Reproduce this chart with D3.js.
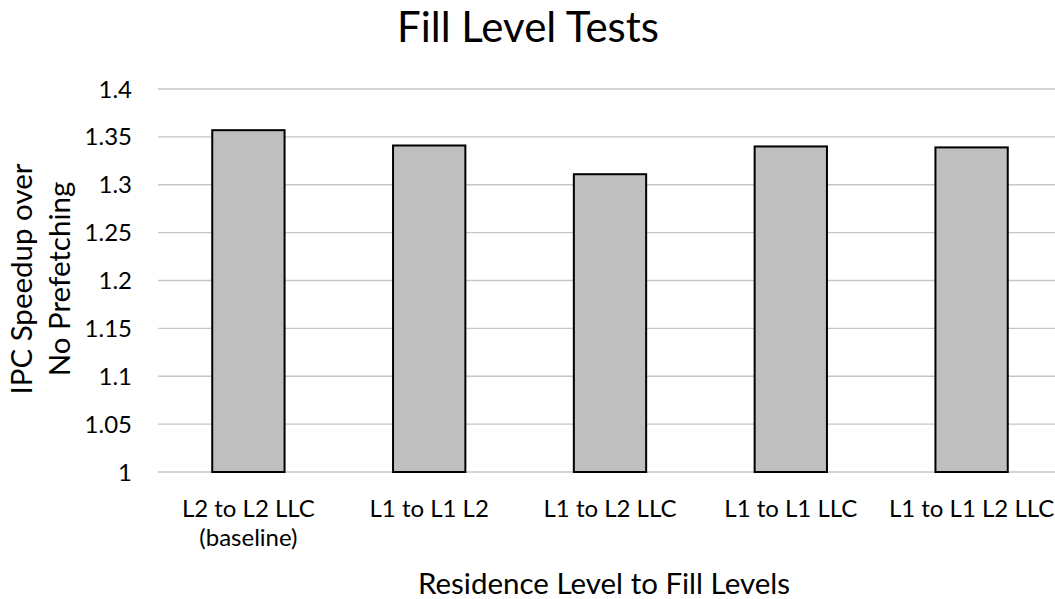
<!DOCTYPE html>
<html lang="en">
<head>
    <meta charset="UTF-8">
    <title>Fill Level Tests</title>
    <style>
        body { margin: 0; background: #fff; }
        text { font-family: Lato, "Open Sans", sans-serif; fill: #000; }
    </style>
</head>
<body>
    <div id="content"></div>

    <script src="https://cdn.jsdelivr.net/npm/d3@7/dist/d3.min.js"></script>
    <script>
        const categories = [
            ["L2 to L2 LLC", "(baseline)"],
            ["L1 to L1 L2"],
            ["L1 to L2 LLC"],
            ["L1 to L1 LLC"],
            ["L1 to L1 L2 LLC"]
        ];
        const speedup = [1.357, 1.341, 1.311, 1.340, 1.339];
        const yTicks = [1, 1.05, 1.1, 1.15, 1.2, 1.25, 1.3, 1.35, 1.4];

        const width = 1055, height = 599;
        const plot = {left: 158, right: 1062, top: 89, bottom: 472};

        const svg = d3.select("#content")
            .append("svg")
            .attr("width", width)
            .attr("height", height);

        const keys = categories.map((c) => c.join(" "));

        const x = d3.scaleBand()
            .domain(keys)
            .range([plot.left, plot.right])
            .paddingInner(0.6)
            .paddingOuter(0.3);

        const y = d3.scaleLinear()
            .domain([1, 1.4])
            .range([plot.bottom, plot.top]);

        // gridlines
        svg.append("g")
            .selectAll("line")
            .data(yTicks)
            .join("line")
            .attr("x1", plot.left)
            .attr("x2", plot.right)
            .attr("y1", (d) => y(d))
            .attr("y2", (d) => y(d))
            .attr("stroke", "#c6c6c6")
            .attr("stroke-width", 1.4);

        // y tick labels
        svg.append("g")
            .selectAll("text")
            .data(yTicks)
            .join("text")
            .attr("x", 132)
            .attr("y", (d) => y(d) + 8.5)
            .attr("text-anchor", "end")
            .attr("font-size", 24)
            .text((d) => d3.format("~g")(d));

        // bars
        svg.append("g")
            .selectAll("rect")
            .data(speedup)
            .join("rect")
            .attr("x", (d, i) => x(keys[i]))
            .attr("y", (d) => y(d))
            .attr("width", x.bandwidth())
            .attr("height", (d) => y(1) - y(d))
            .attr("fill", "#bfbfbf")
            .attr("stroke", "#000")
            .attr("stroke-width", 2);

        // x tick labels
        const xLabels = svg.append("g")
            .selectAll("text")
            .data(categories)
            .join("text")
            .attr("text-anchor", "middle")
            .attr("font-size", 24)
            .attr("y", 517);

        xLabels.selectAll("tspan")
            .data((d, i) => d.map((line) => ({line, cx: x(keys[i]) + x.bandwidth() / 2})))
            .join("tspan")
            .attr("x", (d) => d.cx)
            .attr("dy", (d, j) => j === 0 ? 0 : 29)
            .text((d) => d.line);

        // titles
        svg.append("text")
            .attr("x", 528)
            .attr("y", 42)
            .attr("text-anchor", "middle")
            .attr("font-size", 42)
            .text("Fill Level Tests");

        svg.append("text")
            .attr("x", (plot.left + plot.right) / 2 - 6)
            .attr("y", 594)
            .attr("text-anchor", "middle")
            .attr("font-size", 29.5)
            .text("Residence Level to Fill Levels");

        const yTitle = svg.append("text")
            .attr("transform", "translate(32, 279) rotate(-90)")
            .attr("text-anchor", "middle")
            .attr("font-size", 29.5);

        yTitle.append("tspan").attr("x", 0).attr("dy", 0).text("IPC Speedup over");
        yTitle.append("tspan").attr("x", 0).attr("dy", 38).text("No Prefetching");
    </script>
</body>
</html>
